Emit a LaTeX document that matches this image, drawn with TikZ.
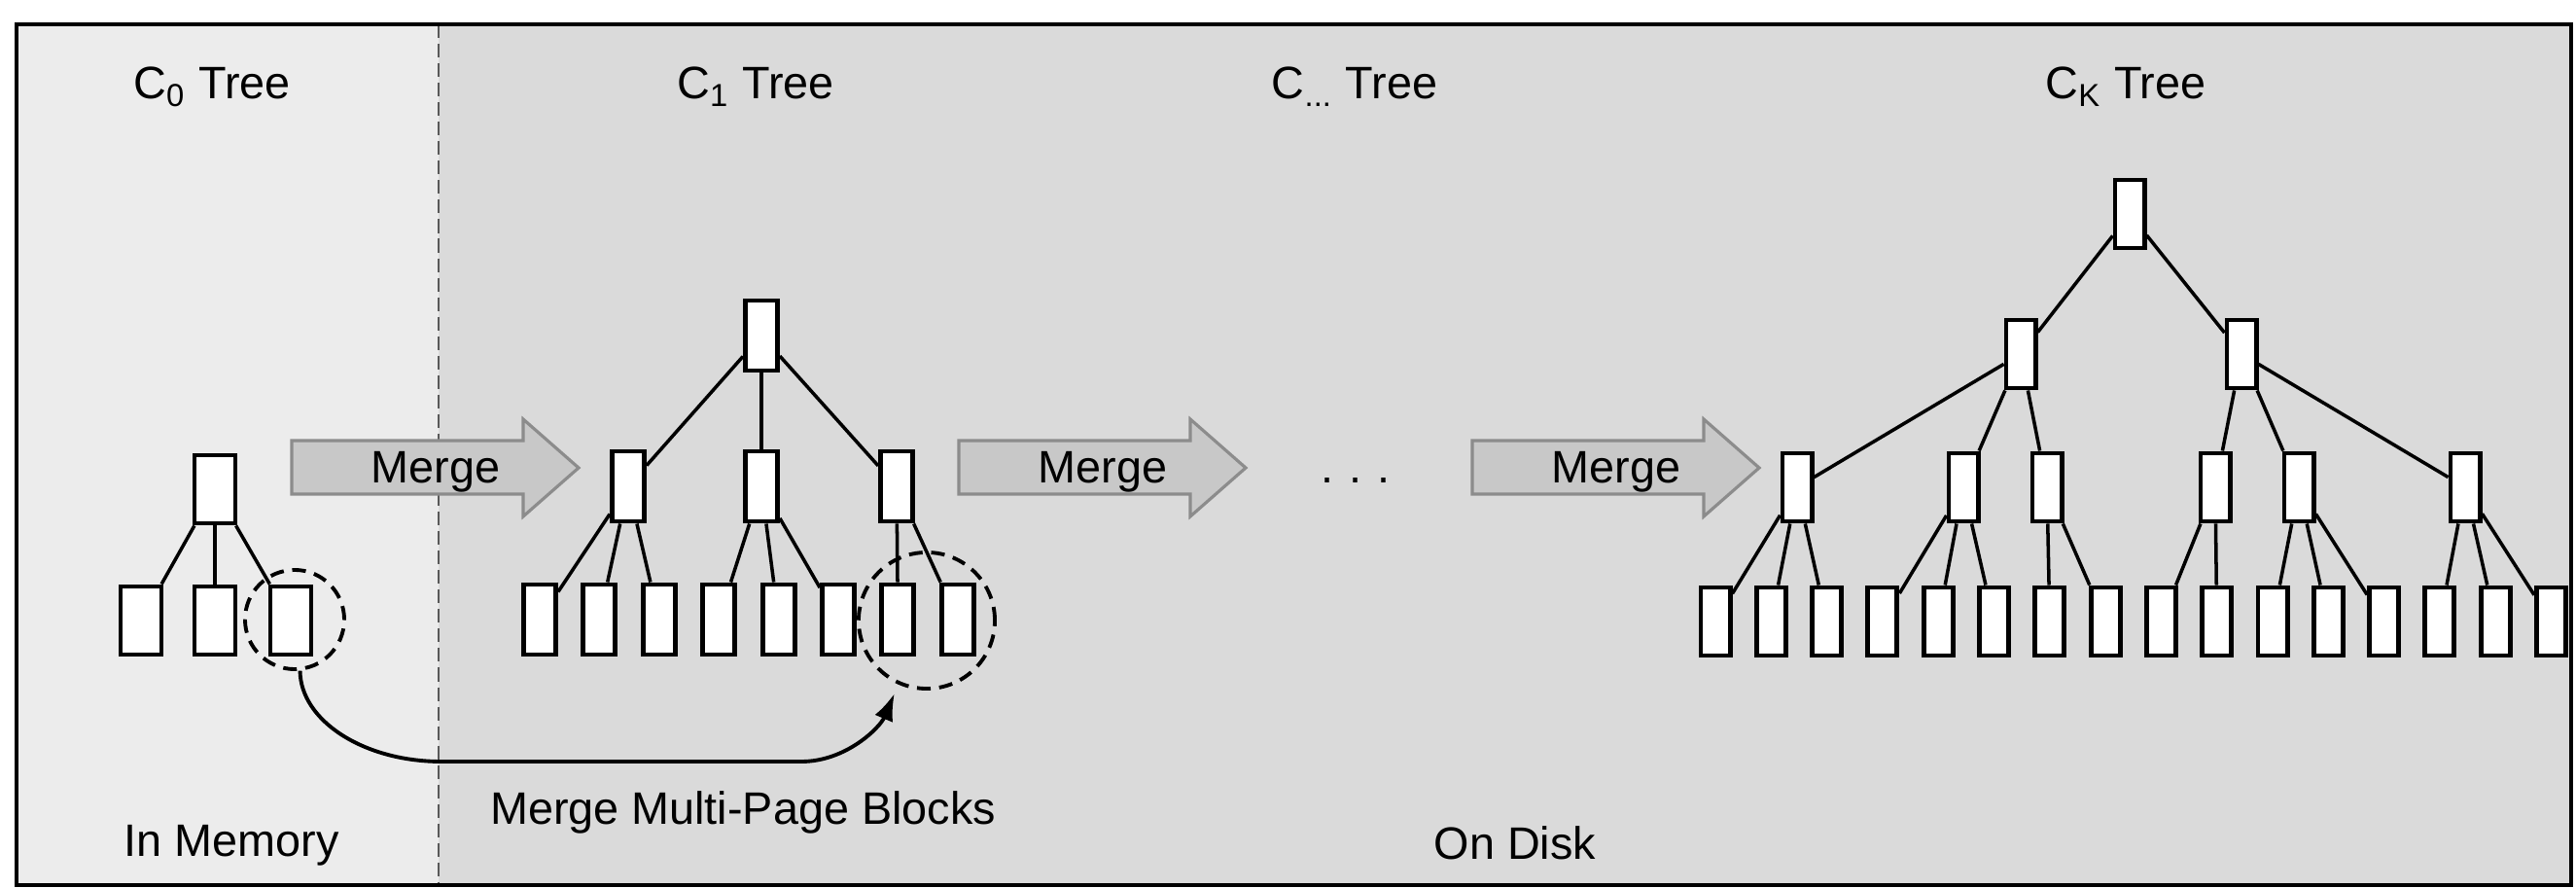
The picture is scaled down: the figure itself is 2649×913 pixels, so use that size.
\documentclass[tikz,border=0pt]{standalone}
\usepackage{fontspec}
\setmainfont{Liberation Sans}
\usetikzlibrary{arrows.meta,positioning,calc}
\definecolor{memgray}{HTML}{ECECEC}
\definecolor{diskgray}{HTML}{DADADA}
\definecolor{mergefill}{HTML}{C8C8C8}
\definecolor{mergeline}{HTML}{8C8C8C}

\begin{document}
\begin{tikzpicture}[x=0.01cm,y=-0.01cm,font=\fontsize{13.3}{16}\selectfont,
  page/.style={draw,fill=white,line width=1.4pt,inner sep=0pt},
  c0page/.style={page,minimum width=0.42cm,minimum height=0.70cm},
  c1page/.style={page,minimum width=0.33cm,minimum height=0.72cm},
  ckpage/.style={page,minimum width=0.30cm,minimum height=0.70cm},
  link/.style={line width=1pt},
  ring/.style={circle,draw,line width=1.1pt,dash pattern=on 4pt off 2.5pt,inner sep=0pt},
  mergearrow/.style={draw=mergeline,fill=mergefill,line width=0.9pt,line join=miter},
  mmpb/.style={line width=1.1pt,-{Latex[length=0.28cm,width=0.2cm]},shorten >=0.1cm}]
\useasboundingbox (0,0) rectangle (2649,913);
% memory and disk panels
\fill[memgray] (17,25) rectangle (451,910);
\fill[diskgray] (451,25) rectangle (2644,910);
\draw[black!65,line width=0.8pt,dash pattern=on 4pt off 1.7pt] (451,25) -- (451,910);
\draw[line width=1.2pt] (17,25) rectangle (2644,910);

% titles
\node[anchor=base] (t0) at (218,102) {C\textsubscript{0} Tree};
\node[anchor=base] (t1) at (777,102) {C\textsubscript{1} Tree};
\node[anchor=base] (tdots) at (1393,102) {C\textsubscript{...} Tree};
\node[anchor=base] (tk) at (2186,102) {C\textsubscript{K} Tree};

% merge arrows
\foreach \xs/\nm in {300/m1,986/m2,1514/m3}{
  \draw[mergearrow] (\xs,453) -- (\xs+238,453) -- (\xs+238,431) -- (\xs+295,481)
    -- (\xs+238,531) -- (\xs+238,508) -- (\xs,508) -- cycle;
  \node[anchor=base] (\nm) at (\xs+148,497) {Merge};
}
\node[anchor=base] (gap) at (1394,497) {.\hspace{4.5pt}.\hspace{4.5pt}.};

% C0 tree
\node[c0page] (c0root) at (221,503) {};
\foreach \i/\x in {1/145,2/221,3/299}
  \node[c0page] (c0leaf\i) at (\x,638) {};
\foreach \i in {1,2,3}
  \draw[link] (c0root) -- (c0leaf\i);

% C1 tree
\node[c1page] (c1root) at (783,345) {};
\foreach \i/\x in {1/646,2/783,3/922}
  \node[c1page] (c1mid\i) at (\x,500) {};
\foreach \i in {0,...,7}
  \node[c1page] (c1leaf\i) at ({555+61.4*\i},637) {};
\foreach \m in {1,2,3}
  \draw[link] (c1root) -- (c1mid\m);
\foreach \m/\l in {1/0,1/1,1/2,2/3,2/4,2/5,3/6,3/7}
  \draw[link] (c1mid\m) -- (c1leaf\l);

% CK tree
\node[ckpage] (ckroot) at (2190,220) {};
\node[ckpage] (cka) at (2078,364) {};
\node[ckpage] (ckb) at (2305,364) {};
\foreach \i/\x in {1/1848,2/2019,3/2105,4/2278,5/2364,6/2535}
  \node[ckpage] (ckmid\i) at (\x,501) {};
\foreach \i in {0,...,15}
  \node[ckpage] (ckleaf\i) at ({1764+57.3*\i},639) {};
\foreach \m in {a,b}
  \draw[link] (ckroot) -- (ck\m);
\foreach \m in {1,2,3}
  \draw[link] (cka) -- (ckmid\m);
\foreach \m in {4,5,6}
  \draw[link] (ckb) -- (ckmid\m);
\foreach \m/\l in {1/0,1/1,1/2,2/3,2/4,2/5,3/6,3/7,4/8,4/9,5/10,5/11,5/12,6/13,6/14,6/15}
  \draw[link] (ckmid\m) -- (ckleaf\l);

% multi-page blocks
\node[ring,minimum size=1.02cm] (c0ring) at (303,637) {};
\node[ring,minimum size=1.40cm] (c1ring) at (953,638) {};
\draw[mmpb] (c0ring.-84) .. controls (309,741) and (374,783) .. (454,783)
  -- (824,783) .. controls (870,783) and (905,748) .. (c1ring.246);

% bottom labels
\node[anchor=base] (mem) at (238,880) {In Memory};
\node[anchor=base] (mmpblabel) at (764,847) {Merge Multi-Page Blocks};
\node[anchor=base] (disk) at (1558,883) {On Disk};
\end{tikzpicture}
\end{document}
